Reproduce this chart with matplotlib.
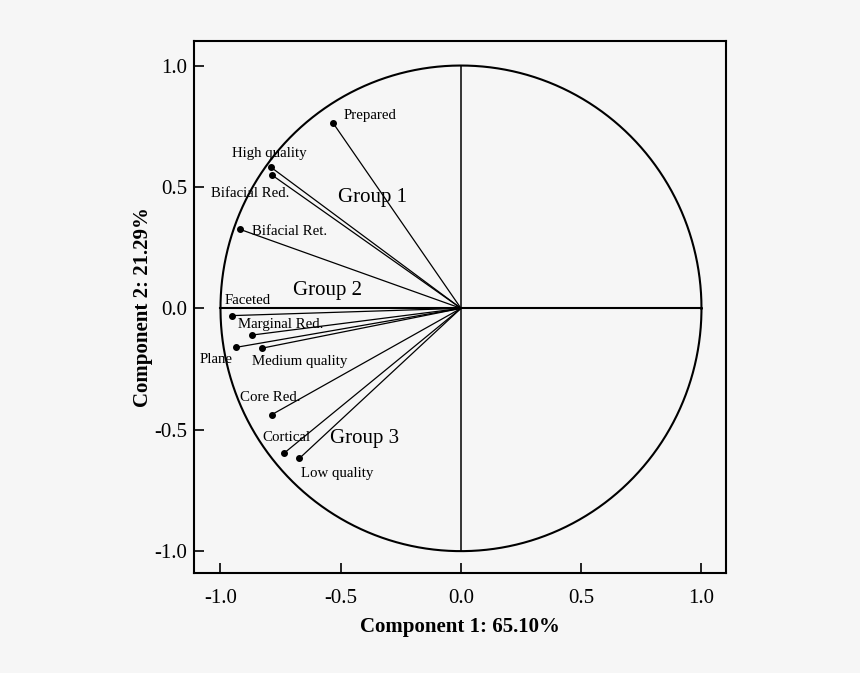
import numpy as np
import matplotlib
matplotlib.use('Agg')
import matplotlib.pyplot as plt

plt.rcParams['font.family'] = ['Liberation Serif', 'DejaVu Serif']
plt.rcParams['axes.unicode_minus'] = False

# Variables du cercle des corrélations
variables = ['Prepared', 'High quality', 'Bifacial Red.', 'Bifacial Ret.', 'Faceted',
             'Marginal Red.', 'Plane', 'Medium quality', 'Core Red.', 'Cortical', 'Low quality']
comp1 = [-0.531, -0.790, -0.786, -0.918, -0.953, -0.868, -0.937, -0.827, -0.787, -0.735, -0.672]
comp2 = [0.762, 0.581, 0.549, 0.325, -0.030, -0.110, -0.161, -0.164, -0.438, -0.596, -0.618]

# position des étiquettes (coin gauche, centre vertical)
label_x = [-0.489, -0.951, -1.040, -0.868, -0.984, -0.926, -1.085, -0.868, -0.918, -0.825, -0.665]
label_y = [0.796, 0.638, 0.471, 0.316, 0.034, -0.066, -0.210, -0.220, -0.367, -0.533, -0.680]

groups = ['Group 1', 'Group 2', 'Group 3']
group_x = [-0.513, -0.697, -0.545]
group_y = [0.457, 0.075, -0.535]

bg = '#f6f6f6'
fig = plt.figure(figsize=(8.6, 6.73), dpi=100, facecolor=bg)
ax = fig.add_axes([0.2259, 0.1481, 0.6179, 0.7905], facecolor=bg)

# cercle unité
t = np.linspace(0, 2 * np.pi, 400)
ax.plot(np.cos(t), np.sin(t), color='black', lw=1.5)
ax.plot([-1, 1], [0, 0], color='black', lw=1.5)
ax.plot([0, 0], [-1, 1], color='black', lw=1.1)

for i in range(len(variables)):
	ax.plot([0, comp1[i]], [0, comp2[i]], color='black', lw=0.9)
	ax.plot(comp1[i], comp2[i], 'o', color='black', markersize=4)
	ax.text(label_x[i], label_y[i], variables[i], fontsize=10.7, ha='left', va='center')

for i in range(len(groups)):
	ax.text(group_x[i], group_y[i], groups[i], fontsize=15, ha='left', va='center')

ax.set_xlim(-1.109, 1.1006)
ax.set_ylim(-1.0914, 1.0997)
ax.set_xticks([-1.0, -0.5, 0.0, 0.5, 1.0])
ax.set_yticks([-1.0, -0.5, 0.0, 0.5, 1.0])
ax.set_xticklabels(['-1.0', '-0.5', '0.0', '0.5', '1.0'])
ax.set_yticklabels(['-1.0', '-0.5', '0.0', '0.5', '1.0'])
ax.tick_params(direction='in', length=7.5, width=1.2, labelsize=15)
ax.tick_params(axis='x', pad=11)
ax.tick_params(axis='y', pad=5)
for s in ax.spines.values():
	s.set_linewidth(1.5)

ax.set_xlabel('Component 1: 65.10%', fontsize=15, fontweight='bold', labelpad=7)
ax.set_ylabel('Component 2: 21.29%', fontsize=15, fontweight='bold', labelpad=1)

plt.savefig('out.png', dpi=100, facecolor=bg)
